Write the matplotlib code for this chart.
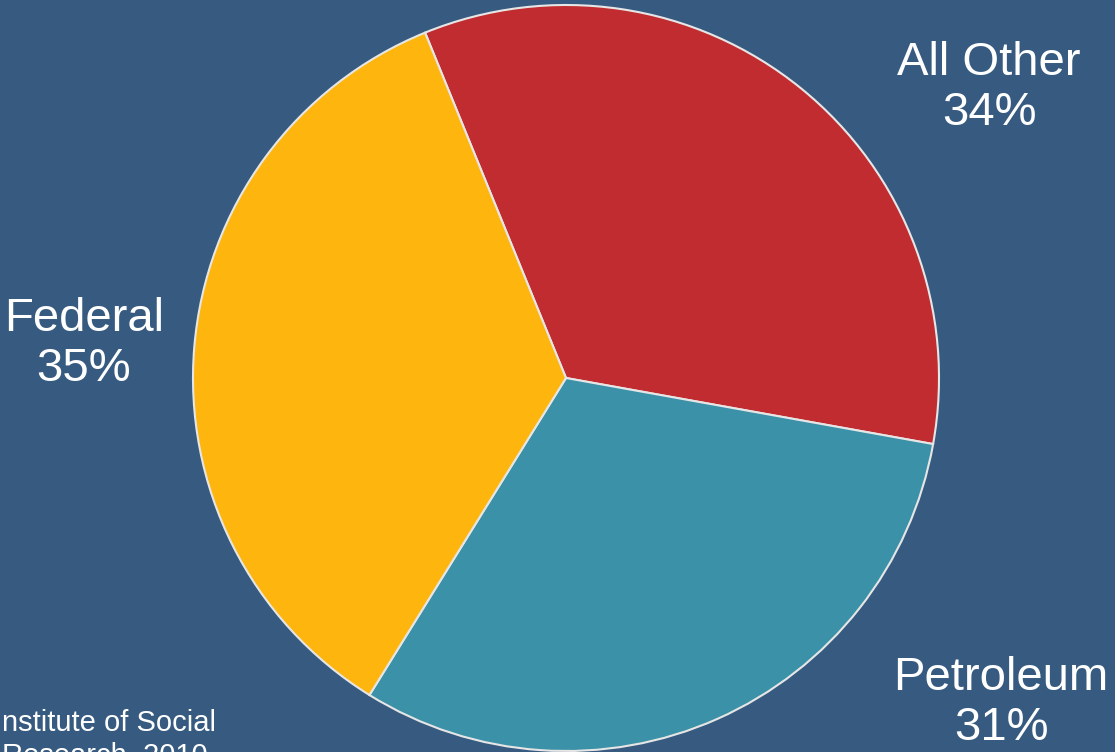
import matplotlib.pyplot as plt

# shares of revenue
labels = ['All Other', 'Petroleum', 'Federal']
shares = [34, 31, 35]
colors = ['#c12c30', '#3b91a7', '#feb60f']

source_text = 'Institute of Social\nResearch, 2010'

W, H = 1115, 752
bg = '#375b80'

plt.rcParams['font.family'] = ['Liberation Sans', 'DejaVu Sans']

fig = plt.figure(figsize=(W / 100, H / 100), dpi=100)
fig.patch.set_facecolor(bg)
ax = fig.add_axes([0, 0, 1, 1])
ax.set_facecolor(bg)

# pie, clockwise from the All Other / Federal boundary
ax.pie(shares, colors=colors, startangle=112.2, counterclock=False,
       center=(566, H - 378), radius=373,
       wedgeprops=dict(edgecolor='#e6e6e6', linewidth=1.5))

ax.set_xlim(0, W)
ax.set_ylim(0, H)
ax.set_aspect('equal')
ax.axis('off')

# labels placed in pixel units
label_pos = {'All Other': (989, 88), 'Petroleum': (1001, 703), 'Federal': (84, 344)}
for lab, val in zip(labels, shares):
    x, y = label_pos[lab]
    ax.text(x, H - y, f'{lab}\n{val}%', color='white', fontsize=34,
            ha='center', va='center', linespacing=1.15)

# source note, runs off the bottom-left corner like the original slide
ax.text(-6, H - 709, source_text, color='white', fontsize=21,
        ha='left', va='top', multialignment='center', linespacing=1.25)

fig.savefig('out.png', dpi=100, facecolor=bg)
